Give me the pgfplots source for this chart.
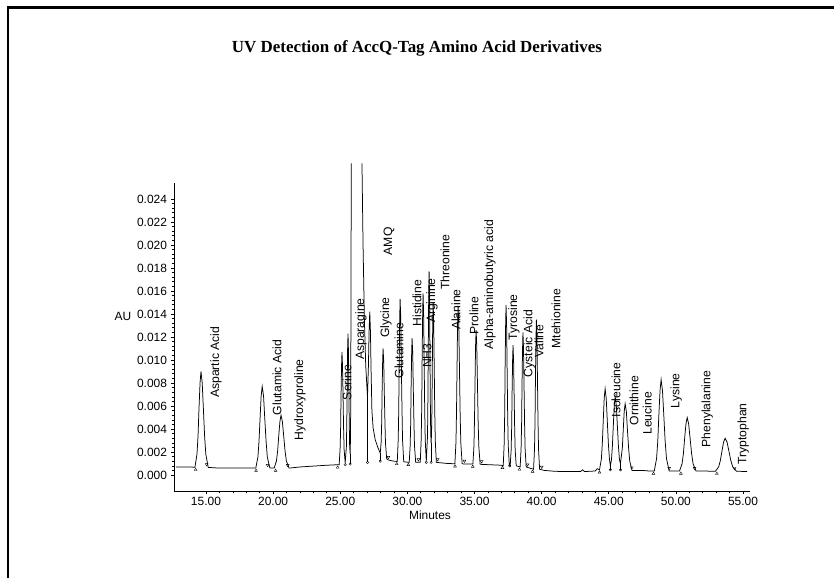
\documentclass[border=0pt]{standalone}
\usepackage{fontspec}
\setmainfont{Liberation Sans}
\newfontfamily\titlefont{Liberation Serif}
\usepackage{pgfplots}
\pgfplotsset{compat=1.18}
\usepackage{pgfplotstable}

\pgfplotstableread{
x y
12.76 0.00070
13.50 0.00070
14.18 0.00068
14.33 0.00180
14.41 0.00338
14.48 0.00573
14.56 0.00802
14.63 0.00900
14.72 0.00802
14.81 0.00573
14.90 0.00338
14.99 0.00180
15.17 0.00066
16.00 0.00060
18.00 0.00060
18.71 0.00060
18.87 0.00156
18.95 0.00291
19.03 0.00491
19.11 0.00686
19.19 0.00770
19.29 0.00686
19.38 0.00491
19.48 0.00291
19.57 0.00156
19.76 0.00060
20.08 0.00060
20.25 0.00122
20.34 0.00210
20.42 0.00339
20.51 0.00466
20.59 0.00520
20.69 0.00466
20.79 0.00339
20.89 0.00210
20.99 0.00122
21.19 0.00060
22.00 0.00070
24.00 0.00085
24.92 0.00090
24.99 0.00222
25.03 0.00409
25.06 0.00685
25.10 0.00954
25.13 0.01070
25.17 0.00954
25.21 0.00685
25.25 0.00409
25.29 0.00222
25.37 0.00105
25.46 0.00248
25.49 0.00464
25.52 0.00784
25.55 0.01096
25.58 0.01230
25.61 0.01096
25.64 0.00784
25.67 0.00464
25.70 0.00260
25.74 0.00180
25.77 0.00350
25.79 0.01000
25.81 0.02000
25.82 0.02710
26.20 nan
26.62 0.02710
26.70 0.02000
26.80 0.01350
26.90 0.00950
27.03 0.00680
27.10 0.00950
27.15 0.01250
27.20 0.01420
27.25 0.01250
27.30 0.00900
27.36 0.00560
27.45 0.00410
27.60 0.00310
27.80 0.00240
27.98 0.00190
28.05 0.00287
28.09 0.00466
28.12 0.00731
28.16 0.00989
28.19 0.01100
28.24 0.00989
28.28 0.00731
28.33 0.00466
28.37 0.00280
28.46 0.00140
28.60 0.00130
29.00 0.00120
29.25 0.00118
29.32 0.00309
29.36 0.00577
29.39 0.00975
29.43 0.01363
29.46 0.01530
29.51 0.01363
29.55 0.00975
29.60 0.00577
29.64 0.00309
29.73 0.00115
30.14 0.00110
30.21 0.00256
30.25 0.00461
30.28 0.00766
30.32 0.01063
30.35 0.01190
30.40 0.01063
30.44 0.00766
30.49 0.00461
30.53 0.00256
30.62 0.00110
30.96 0.00110
31.03 0.00308
31.07 0.00588
31.10 0.01002
31.14 0.01407
31.17 0.01580
31.21 0.01407
31.25 0.01002
31.29 0.00588
31.33 0.00308
31.41 0.00120
31.50 0.00334
31.53 0.00650
31.56 0.01118
31.59 0.01574
31.62 0.01770
31.65 0.01574
31.68 0.01118
31.71 0.00650
31.74 0.00360
31.77 0.00280
31.80 0.00350
31.83 0.00562
31.86 0.00954
31.89 0.01336
31.92 0.01500
31.96 0.01336
32.00 0.00954
32.04 0.00562
32.08 0.00298
32.16 0.00110
33.00 0.00100
33.54 0.00098
33.62 0.00283
33.66 0.00544
33.70 0.00931
33.74 0.01308
33.78 0.01470
33.83 0.01308
33.88 0.00931
33.93 0.00544
33.98 0.00283
34.08 0.00097
34.88 0.00095
34.96 0.00252
35.00 0.00474
35.04 0.00802
35.08 0.01123
35.12 0.01260
35.17 0.01123
35.22 0.00802
35.27 0.00474
35.32 0.00252
35.42 0.00093
36.00 0.00090
37.00 0.00085
37.14 0.00080
37.21 0.00269
37.25 0.00535
37.28 0.00930
37.32 0.01315
37.35 0.01480
37.39 0.01315
37.43 0.00930
37.47 0.00535
37.51 0.00269
37.59 0.00090
37.66 0.00078
37.73 0.00217
37.77 0.00418
37.80 0.00715
37.84 0.01005
37.87 0.01130
37.91 0.01005
37.95 0.00715
37.99 0.00418
38.03 0.00217
38.11 0.00080
38.40 0.00070
38.47 0.00228
38.51 0.00450
38.54 0.00780
38.58 0.01102
38.61 0.01240
38.65 0.01102
38.69 0.00780
38.73 0.00450
38.77 0.00228
38.85 0.00070
39.40 0.00050
39.47 0.00226
39.51 0.00473
39.54 0.00839
39.58 0.01197
39.61 0.01350
39.65 0.01197
39.69 0.00839
39.73 0.00473
39.77 0.00226
39.85 0.00050
40.20 0.00040
41.00 0.00032
42.00 0.00030
42.90 0.00030
43.05 0.00045
43.20 0.00030
44.00 0.00035
44.14 0.00055
44.31 0.00045
44.45 0.00140
44.52 0.00274
44.59 0.00473
44.66 0.00667
44.73 0.00750
44.81 0.00667
44.89 0.00473
44.97 0.00274
45.05 0.00140
45.12 0.00080
45.20 0.00131
45.27 0.00251
45.34 0.00430
45.41 0.00605
45.48 0.00680
45.56 0.00605
45.64 0.00430
45.72 0.00251
45.80 0.00131
45.87 0.00100
46.01 0.00232
46.08 0.00394
46.15 0.00552
46.22 0.00620
46.31 0.00552
46.39 0.00394
46.48 0.00232
46.56 0.00123
46.73 0.00040
47.50 0.00040
48.00 0.00035
48.39 0.00035
48.56 0.00142
48.65 0.00293
48.73 0.00518
48.82 0.00736
48.90 0.00830
49.00 0.00736
49.10 0.00518
49.20 0.00293
49.30 0.00142
49.50 0.00035
50.27 0.00035
50.46 0.00098
50.56 0.00186
50.65 0.00317
50.75 0.00445
50.84 0.00500
50.95 0.00445
51.06 0.00317
51.17 0.00186
51.28 0.00098
51.50 0.00035
52.95 0.00033
53.19 0.00072
53.31 0.00126
53.43 0.00207
53.55 0.00286
53.67 0.00320
53.81 0.00286
53.95 0.00207
54.09 0.00126
54.23 0.00072
54.51 0.00033
55.30 0.00030
}\trace

\pgfplotstableread{
x y
25.74 0.00180
25.74 0.00095
25.75 nan
27.03 0.00680
27.03 0.00110
27.04 nan
27.98 0.00190
27.98 0.00120
27.99 nan
31.77 0.00280
31.77 0.00110
31.78 nan
45.12 0.00080
45.12 0.00045
45.13 nan
45.87 0.00100
45.87 0.00045
}\droplines

\pgfplotstableread{
x y
14.23 0.00046
18.73 0.00038
20.19 0.00038
24.81 0.00066
29.21 0.00096
30.07 0.00088
33.55 0.00076
34.87 0.00073
37.08 0.00063
38.35 0.00048
39.33 0.00030
44.31 0.00023
48.33 0.00013
50.37 0.00013
53.05 0.00011
}\starts

\pgfplotstableread{
x y
15.05 0.00092
19.60 0.00085
21.09 0.00085
28.59 0.00155
30.82 0.00135
32.26 0.00135
34.25 0.00122
35.54 0.00118
38.95 0.00090
40.01 0.00070
46.72 0.00065
49.50 0.00060
51.39 0.00060
54.37 0.00058
}\ends

\pgfplotstableread{
x y
25.37 0.00090
25.74 0.00095
27.03 0.00110
27.98 0.00120
31.41 0.00110
31.77 0.00110
37.62 0.00080
45.12 0.00045
45.87 0.00045
}\drops

\begin{document}
\begin{tikzpicture}[x=1bp,y=1bp]
\begin{axis}[
  scale only axis, width=576bp, height=308bp,
  xmin=12.62, xmax=55.52, ymin=-0.00139, ymax=0.02539,
  axis lines*=left,
  axis line style={line width=0.7bp},
  clip=false,
  unbounded coords=jump,
  tick align=outside,
  major tick length=3.5bp, minor tick length=2.5bp,
  tick style={black, line width=0.6bp},
  xtick={15,20,25,30,35,40,45,50,55},
  ytick={0,0.002,0.004,0.006,0.008,0.010,0.012,0.014,0.016,0.018,0.020,0.022,0.024},
  minor x tick num=4, minor y tick num=4,
  scaled y ticks=false, scaled x ticks=false,
  /pgf/number format/assume math mode=true,
  xticklabel style={/pgf/number format/.cd, fixed, fixed zerofill, precision=2},
  yticklabel style={/pgf/number format/.cd, fixed, fixed zerofill, precision=3},
  tick label style={font=\fontsize{12}{13}\selectfont},
  xticklabel shift=-0.5bp,
]
\addplot[black, line width=0.75bp] table[x=x,y=y] {\trace};
\addplot[black, line width=0.5bp] table[x=x,y=y] {\droplines};
\addplot[only marks, mark=triangle, mark size=1.6bp, mark options={black, line width=0.4bp}] table[x=x,y=y] {\starts};
\addplot[only marks, mark=triangle, mark size=1.6bp, mark options={black, line width=0.4bp, rotate=180}] table[x=x,y=y] {\ends};
\addplot[only marks, mark=o, mark size=1.2bp, mark options={black, line width=0.4bp}] table[x=x,y=y] {\drops};
\coordinate (O) at (axis cs:12.62,-0.00139);

\begin{scope}[every node/.style={rotate=90, anchor=west, inner sep=0pt, font=\fontsize{12.2}{13}\selectfont}]
\node at (axis cs:15.75,0.0067) {Aspartic Acid};
\node at (axis cs:20.29,0.0052) {Glutamic Acid};
\node at (axis cs:22.00,0.0030) {Hydroxyproline};
\node at (axis cs:25.51,0.0065) {Serine};
\node at (axis cs:26.55,0.0100) {Asparagine};
\node at (axis cs:28.64,0.0191) {AMQ};
\node at (axis cs:28.41,0.0119) {Glycine};
\node at (axis cs:29.38,0.0084) {Glutamine};
\node at (axis cs:30.72,0.0129) {Histidine};
\node at (axis cs:31.47,0.0093) {NH3};
\node at (axis cs:31.84,0.0132) {Arginine};
\node at (axis cs:32.81,0.0161) {Threonine};
\node at (axis cs:33.63,0.0126) {Alanine};
\node at (axis cs:34.97,0.0122) {Proline};
\node at (axis cs:36.16,0.0109) {Alpha-aminobutyric acid};
\node at (axis cs:37.95,0.0117) {Tyrosine};
\node at (axis cs:39.07,0.0085) {Cysteic Acid};
\node at (axis cs:39.81,0.0102) {Valine};
\node at (axis cs:41.08,0.0110) {Mtehionine};
\node at (axis cs:45.55,0.0050) {Isoleucine};
\node at (axis cs:46.89,0.0043) {Ornithine};
\node at (axis cs:47.86,0.0035) {Leucine};
\node at (axis cs:50.02,0.0058) {Lysine};
\node at (axis cs:52.33,0.0024) {Phenylalanine};
\node at (axis cs:55.01,0.0009) {Tryptophan};
\end{scope}
\end{axis}
\begin{scope}[shift={(O)}, xshift=-174bp, yshift=-87bp]
\path[use as bounding box] (0,0) rectangle (834,578);
\draw[line width=2.2bp] (8.3,0) -- (8.3,570.5) -- (834,570.5);
\node[font=\fontsize{12}{13}\selectfont] at (123,262) {AU};
\node[font=\fontsize{12}{13}\selectfont] at (430,63) {Minutes};
\node[font=\titlefont\bfseries\fontsize{17}{20}\selectfont] at (417,530) {UV Detection of AccQ-Tag Amino Acid Derivatives};
\end{scope}
\end{tikzpicture}
\end{document}
